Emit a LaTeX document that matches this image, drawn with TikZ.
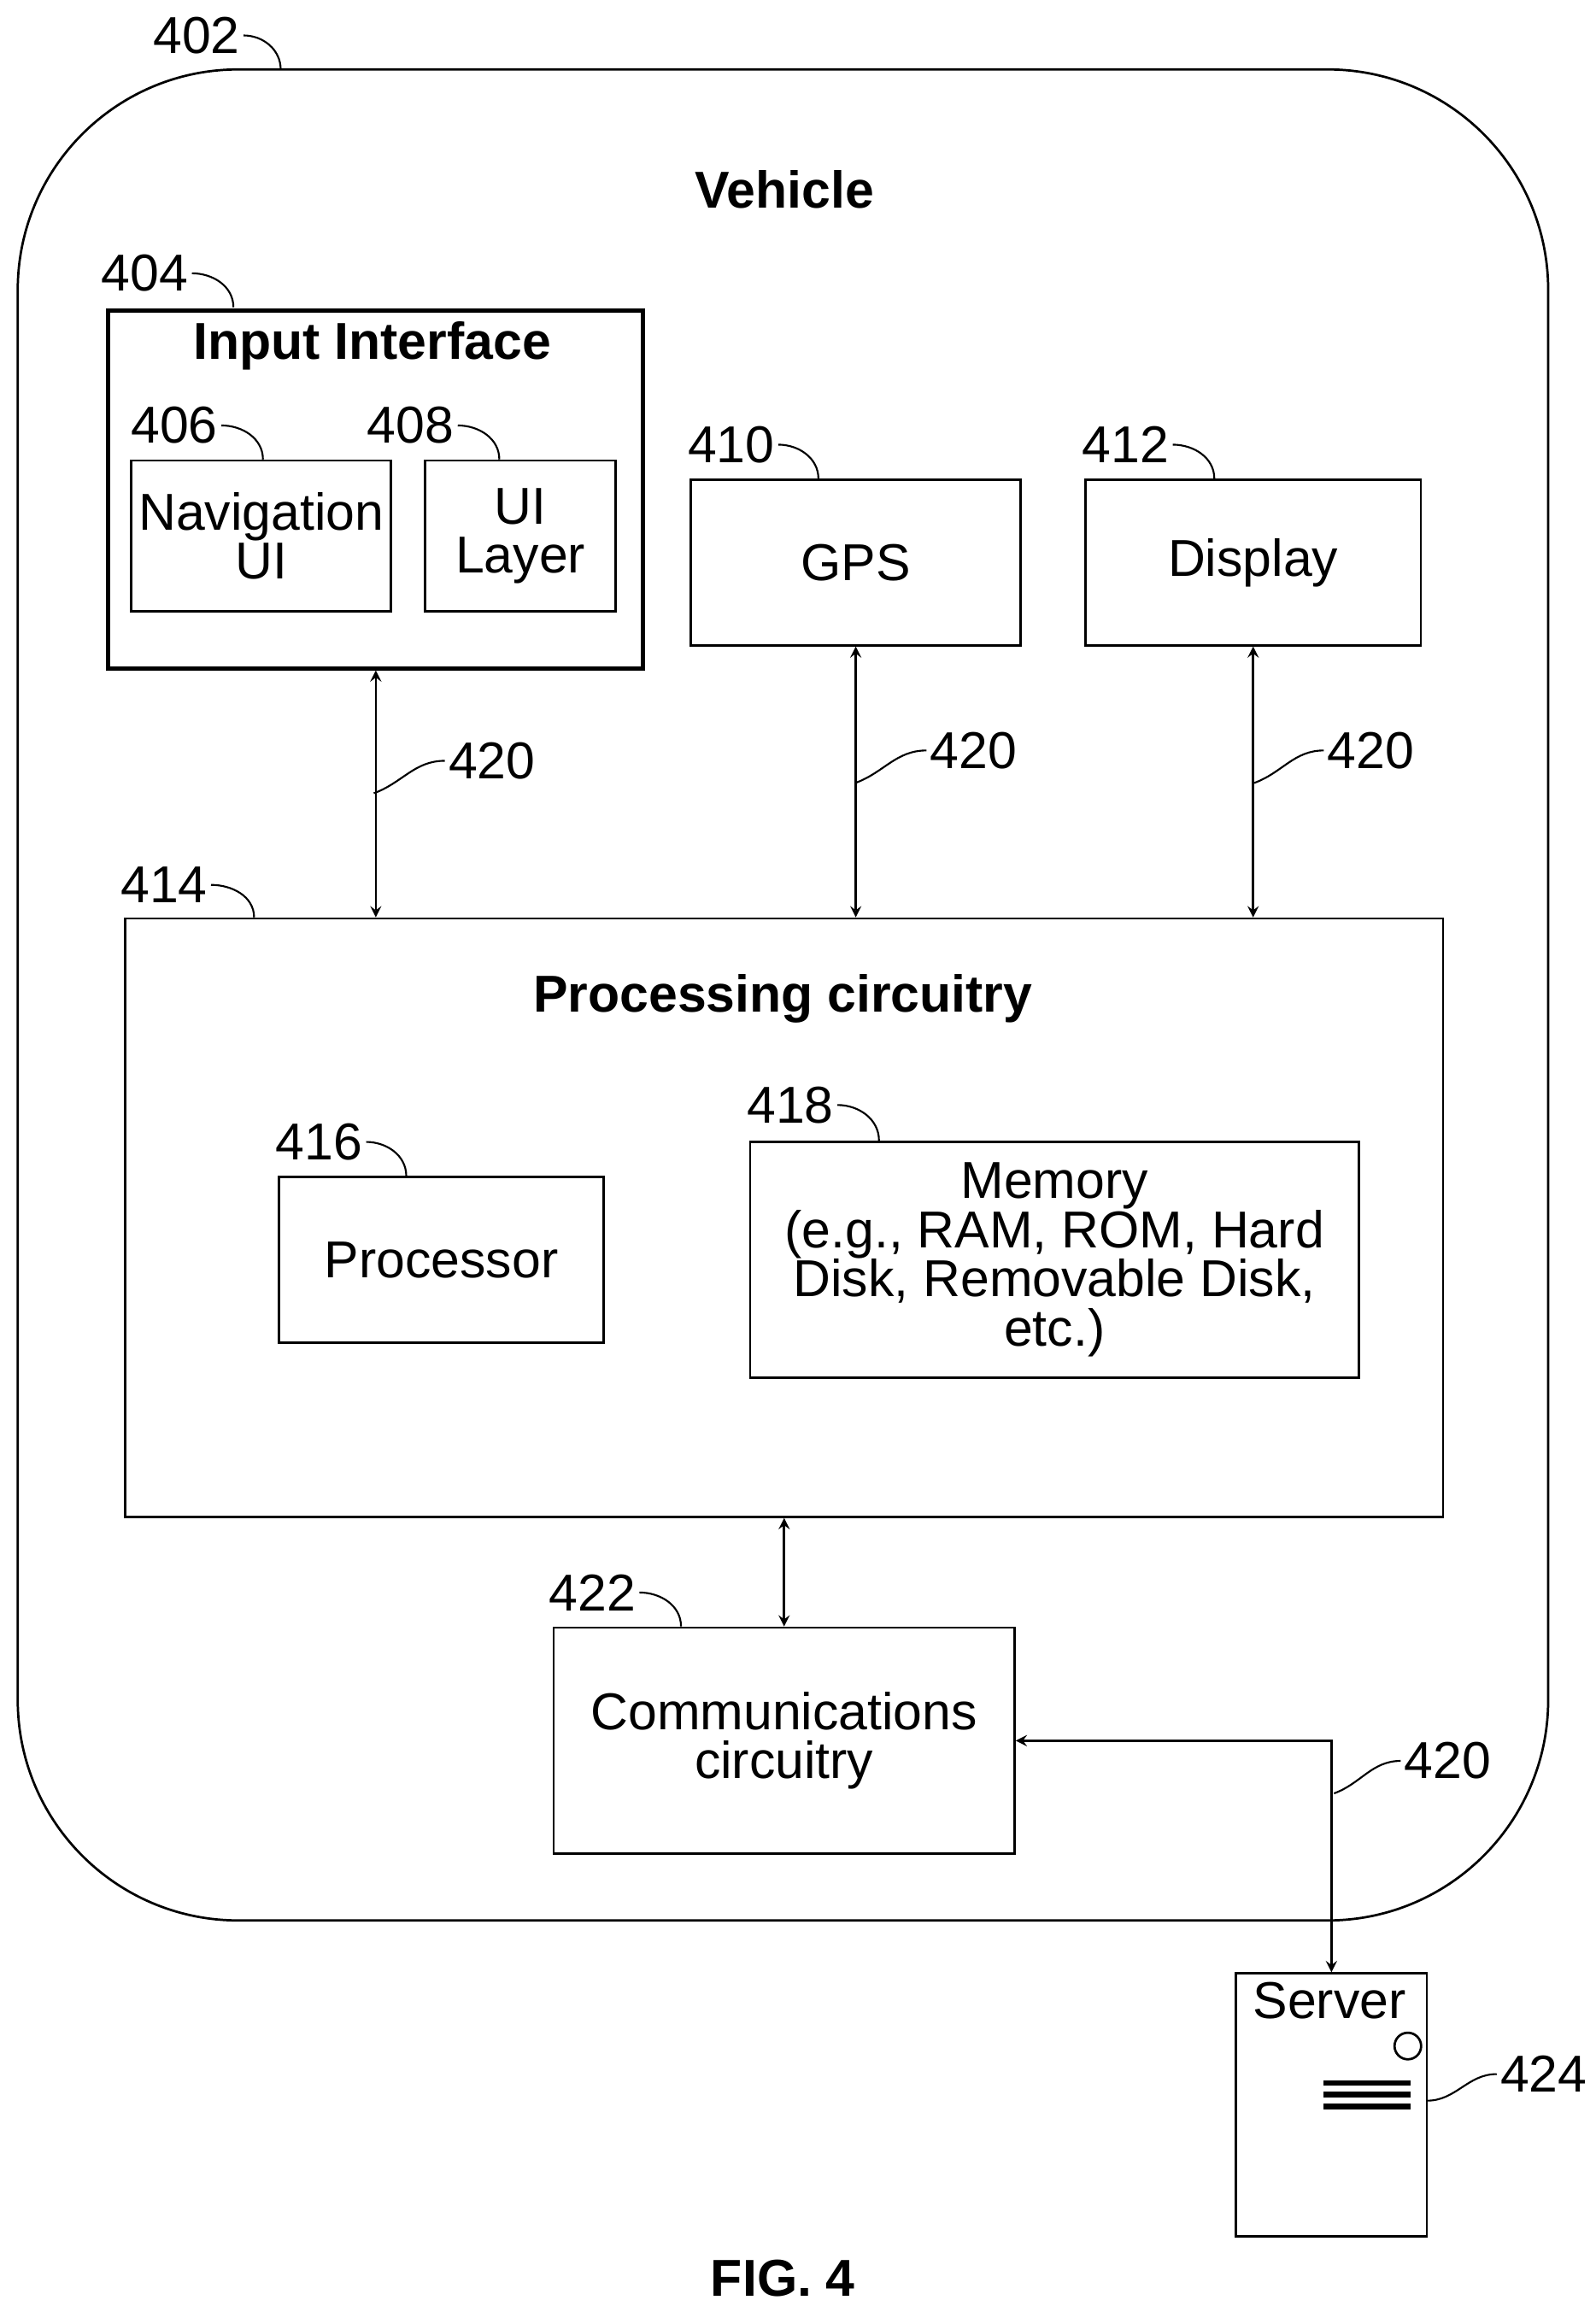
\documentclass[tikz,border=0pt]{standalone}
\usepackage{fontspec}
\setmainfont{Liberation Sans}
\usetikzlibrary{positioning}
\usetikzlibrary{calc}

\begin{document}
\begin{tikzpicture}[>=stealth, x=0.02cm, y=-0.02cm, font=\fontsize{20}{22}\selectfont, line width=0.9pt]
		\tikzset{box/.style={draw, anchor=north west, align=center, inner sep=0pt},
			num/.style={anchor=center, inner sep=1pt},
			lead/.style={line width=0.7pt}}
		\useasboundingbox (0,0) rectangle (1080,1561);
		
		%vehicle
		\draw[rounded corners=85pt] (12,47) rectangle (1048,1300);
		\node (veh) at (531,128) {\bfseries Vehicle};
		\node[num] (n402) at (133,24) {402};
		\draw[lead] (n402.east) to[out=0,in=90] (190,47);
		
		%input interface
		\node[box, line width=1.6pt, minimum width=362*0.02cm, minimum height=242*0.02cm] (inp) at (72,209) {};
		\node (inpT) at (252,234) {\bfseries Input Interface};
		\node[num] (n404) at (98,185) {404};
		\draw[lead] (n404.east) to[out=0,in=90] (158,208);
		
		\node[box, minimum width=176*0.02cm, minimum height=102*0.02cm] (nav) at (88,311) {Navigation\\[-3pt]UI};
		\node[num] (n406) at (118,288) {406};
		\draw[lead] (n406.east) to[out=0,in=90] (178,311);
		\node[box, minimum width=129*0.02cm, minimum height=102*0.02cm] (uil) at (287,311) {UI\\[-3pt]Layer};
		\node[num] (n408) at (278,288) {408};
		\draw[lead] (n408.east) to[out=0,in=90] (338,311);
		
		%gps, display
		\node[box, minimum width=223*0.02cm, minimum height=112*0.02cm] (gps) at (467,324) {GPS};
		\node[num] (n410) at (495,301) {410};
		\draw[lead] (n410.east) to[out=0,in=90] (554,324);
		\node[box, minimum width=227*0.02cm, minimum height=112*0.02cm] (dsp) at (734,324) {Display};
		\node[num] (n412) at (762,301) {412};
		\draw[lead] (n412.east) to[out=0,in=90] (822,324);
		
		%processing circuitry
		\node[box, minimum width=892*0.02cm, minimum height=405*0.02cm] (proc) at (84,621) {};
		\node (procT) at (530,676) {\bfseries Processing circuitry};
		\node[num] (n414) at (111,599) {414};
		\draw[lead] (n414.east) to[out=0,in=90] (172,621);
		\node[box, minimum width=220*0.02cm, minimum height=112*0.02cm] (cpu) at (188,796) {Processor};
		\node[num] (n416) at (216,773) {416};
		\draw[lead] (n416.east) to[out=0,in=90] (275,796);
		\node[box, minimum width=412*0.02cm, minimum height=160*0.02cm] (mem) at (507,772) {Memory\\[-3pt](e.g., RAM, ROM, Hard\\[-3pt]Disk, Removable Disk,\\[-3pt]etc.)};
		\node[num] (n418) at (535,748) {418};
		\draw[lead] (n418.east) to[out=0,in=90] (595,772);
		
		%communications, server
		\node[box, minimum width=312*0.02cm, minimum height=153*0.02cm] (com) at (374,1101) {Communications\\[-3pt]circuitry};
		\node[num] (n422) at (401,1078) {422};
		\draw[lead] (n422.east) to[out=0,in=90] (461,1101);
		\node[box, minimum width=129*0.02cm, minimum height=178*0.02cm] (srv) at (836,1335) {};
		\node (srvT) at (900,1354) {Server};
		\node[draw, circle, minimum size=18*0.02cm, inner sep=0pt] (led) at (953,1385) {};
		\foreach \yy in {1410,1418,1426}
			\draw[line width=2.2pt] (896,\yy) -- (955,\yy);
		\node[num] (n424) at (1045,1404) {424};
		\draw[lead] (n424.west) to[out=180,in=0] (966,1422);
		
		%buses
		\draw[<->] (inp.south) -- (inp.south |- proc.north);
		\draw[<->] (gps.south) -- (gps.south |- proc.north);
		\draw[<->] (dsp.south) -- (dsp.south |- proc.north);
		\draw[<->] (proc.south) -- (com.north);
		\draw[<->] (srv.north) |- (com.east);
		\node[num] (b1) at (333,515) {420};
		\draw[lead] (253,537) to[out=20,in=180] (b1.west);
		\node[num] (b2) at (659,508) {420};
		\draw[lead] (579,530) to[out=20,in=180] (b2.west);
		\node[num] (b3) at (928,508) {420};
		\draw[lead] (849,530) to[out=20,in=180] (b3.west);
		\node[num] (b4) at (980,1192) {420};
		\draw[lead] (903,1214) to[out=20,in=180] (b4.west);
		
		\node (fig) at (530,1542) {\bfseries FIG. 4};
\end{tikzpicture}
\end{document}
